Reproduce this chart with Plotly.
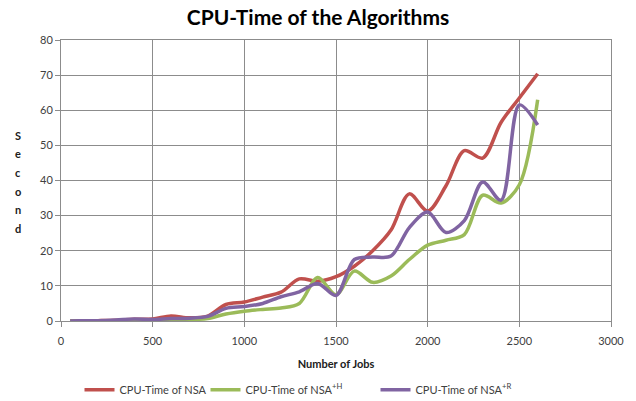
import plotly.graph_objects as go

# jobs on the x axis
jobs = [50, 100, 200, 300, 400, 500, 600, 700, 800, 900, 1000, 1100, 1200, 1300,
        1400, 1500, 1600, 1700, 1800, 1900, 2000, 2100, 2200, 2300, 2400, 2500, 2600]

# CPU time (seconds)
nsa = [0, 0.05, 0.1, 0.2, 0.5, 0.6, 1.4, 0.9, 1.4, 4.7, 5.4, 6.8, 8.2, 12.0,
       11.3, 12.6, 15.6, 20.0, 25.9, 36.2, 31.3, 38.5, 48.5, 46.4, 56.5, 63.5, 70.4]
nsa_h = [0, 0.05, 0.1, 0.1, 0.2, 0.3, 0.3, 0.4, 0.7, 2.0, 2.8, 3.3, 3.7, 5.0,
         12.4, 7.5, 14.2, 11.0, 12.8, 17.5, 21.6, 23.0, 24.6, 35.8, 33.6, 38.8, 63.0]
nsa_r = [0, 0.05, 0.1, 0.3, 0.6, 0.4, 0.7, 0.8, 1.3, 3.6, 4.1, 5.0, 6.9, 8.3,
         10.7, 7.3, 17.5, 18.2, 18.5, 26.6, 31.0, 25.2, 28.6, 39.6, 34.4, 61.5, 55.8]

names = ["CPU-Time of NSA", "CPU-Time of NSA<sup>+H</sup>", "CPU-Time of NSA<sup>+R</sup>"]
colors = ["#C0504D", "#9BBB59", "#8064A2"]
item_w = [81, 125, 125]

fig = go.Figure()
for ys, name, col, w in zip([nsa, nsa_h, nsa_r], names, colors, item_w):
    fig.add_trace(go.Scatter(
        x=jobs, y=ys, name=name, mode="lines", legendwidth=w,
        line=dict(color=col, width=3.5, shape="spline", smoothing=0.9),
    ))

grid = "#8c8c8c"
tickfont = dict(family="Lato", size=11, color="#404040")

fig.update_layout(
    width=636, height=401,
    margin=dict(l=61, r=25, t=40, b=80, autoexpand=False),
    paper_bgcolor="white", plot_bgcolor="white",
    title=dict(text="<b>CPU-Time of the Algorithms</b>", x=0.5, xanchor="center",
               y=0.957, yanchor="middle",
               font=dict(family="Lato", size=21, color="black")),
    showlegend=True,
    legend=dict(orientation="h", xref="container", yref="container",
                x=0.125, xanchor="left", y=0.028, yanchor="middle",
                font=dict(family="Lato", size=11, color="#404040"),
                itemwidth=30, traceorder="normal"),
    xaxis=dict(range=[0, 3000], dtick=500, showgrid=True, gridcolor=grid, gridwidth=1,
               showline=True, linecolor=grid, linewidth=1, mirror=True,
               ticks="outside", ticklen=5, tickcolor=grid, tickfont=tickfont,
               ticklabelstandoff=5,
               zeroline=False, automargin=False,
               title=dict(text="<b>Number of Jobs</b>", standoff=14,
                          font=dict(family="Lato", size=11, color="#202020"))),
    yaxis=dict(range=[0, 80], dtick=10, showgrid=True, gridcolor=grid, gridwidth=1,
               showline=True, linecolor=grid, linewidth=1, mirror=True,
               ticks="outside", ticklen=5, tickcolor=grid, tickfont=tickfont,
               zeroline=False, automargin=False),
)

# vertical stacked y-axis title
label = "Second"
for i, ch in enumerate(label):
    fig.add_annotation(text="<b>" + ch + "</b>", xref="paper", yref="paper",
                       x=-0.078, y=(321 - 135 - i * 18.6) / 281.5,
                       xanchor="center", yanchor="middle", showarrow=False,
                       font=dict(family="Lato", size=11, color="#202020"))

fig.write_html("out.html", config={"displayModeBar": False},
               post_script="document.body.style.margin='0';")
